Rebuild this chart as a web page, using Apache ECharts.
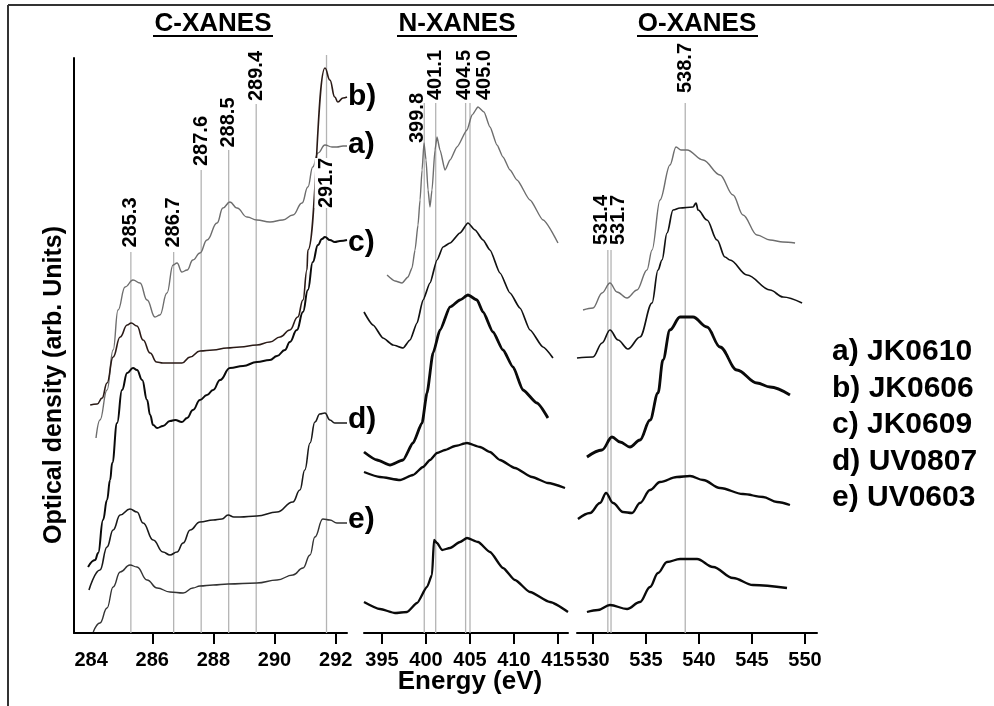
<!DOCTYPE html>
<html>
<head>
<meta charset="utf-8">
<script src="https://cdn.jsdelivr.net/npm/echarts@6.0.0/dist/echarts.min.js"></script>
<style>
html,body{margin:0;padding:0;background:#fff;}
#chart{width:994px;height:706px;}
</style>
</head>
<body>
<div id="chart"></div>
<script>
// ---------------- DATA ----------------
// C-XANES (energy eV, optical density arb. units incl. vertical offset)
const cA = [[284.16,19.5],[284.29,21.3],[284.52,24.3],[284.72,28.3],[284.88,32.3],[285.11,34.6],[285.37,35.3],[285.60,35.0],[285.83,33.3],[286.09,31.6],[286.25,31.8],[286.48,34.0],[286.68,36.8],[286.81,37.0],[286.97,36.1],[287.14,36.3],[287.33,37.3],[287.56,38.0],[287.79,39.3],[288.12,41.0],[288.31,42.5],[288.54,43.1],[288.77,42.5],[289.10,41.6],[289.42,41.3],[289.85,41.1],[290.27,41.3],[290.60,41.8],[290.90,43.0],[291.09,44.6],[291.25,46.6],[291.42,48.0],[291.65,48.8],[291.88,48.6],[292.04,48.6],[292.24,48.7],[292.37,48.7]];
const cB = [[283.97,22.8],[284.20,22.9],[284.36,23.5],[284.52,25.0],[284.72,27.6],[284.95,29.6],[285.18,30.8],[285.31,31.0],[285.50,30.7],[285.70,29.3],[285.93,28.0],[286.14,27.1],[286.35,27.0],[286.97,27.0],[287.24,27.6],[287.56,28.2],[287.99,28.3],[288.44,28.5],[288.87,28.6],[289.42,28.8],[289.85,29.1],[290.18,29.6],[290.50,30.3],[290.76,31.6],[290.93,33.3],[291.06,36.3],[291.09,38.3],[291.65,56.5],[291.81,55.3],[291.97,53.6],[292.07,53.1],[292.24,53.5],[292.37,53.6]];
const cC = [[283.90,6.6],[284.13,7.3],[284.23,8.0],[284.39,11.3],[284.52,13.3],[284.62,15.3],[284.69,17.0],[284.85,21.0],[285.01,24.3],[285.18,26.0],[285.37,26.5],[285.50,26.3],[285.67,25.3],[285.83,23.3],[285.93,21.8],[286.03,20.8],[286.16,20.5],[286.35,20.7],[286.58,21.2],[286.75,21.3],[286.97,21.1],[287.14,21.5],[287.33,22.3],[287.56,23.3],[287.79,23.8],[287.99,24.3],[288.22,25.3],[288.54,26.5],[288.97,26.7],[289.42,27.1],[289.85,27.3],[290.08,27.7],[290.34,28.3],[290.50,29.1],[290.73,30.3],[290.93,32.1],[291.09,34.3],[291.25,37.1],[291.42,38.8],[291.55,39.4],[291.65,39.6],[291.81,39.3],[291.97,39.1],[292.14,39.2],[292.37,39.3]];
const cD = [[283.93,4.3],[284.29,6.3],[284.52,8.6],[284.72,10.3],[284.95,11.8],[285.27,12.4],[285.50,12.1],[285.70,11.0],[286.03,9.3],[286.35,8.1],[286.58,7.8],[286.81,8.1],[287.01,9.0],[287.24,10.3],[287.56,11.1],[287.99,11.3],[288.28,11.4],[288.48,11.8],[288.67,11.6],[288.87,11.6],[289.42,11.7],[290.08,12.1],[290.60,13.1],[290.83,14.3],[290.99,16.3],[291.16,19.0],[291.32,21.1],[291.48,21.9],[291.65,22.0],[291.81,21.3],[291.97,21.0],[292.24,21.0],[292.37,21.0]];
const cE = [[284.07,0.1],[284.29,1.0],[284.52,2.5],[284.72,4.6],[284.95,6.1],[285.27,6.8],[285.50,6.6],[285.83,5.3],[286.16,4.5],[286.58,4.1],[287.01,4.0],[287.33,4.5],[287.56,4.7],[287.99,4.8],[288.48,4.9],[289.42,5.0],[290.08,5.3],[290.60,5.8],[290.93,6.5],[291.16,7.8],[291.32,9.6],[291.58,11.4],[291.81,11.3],[292.04,11.0],[292.24,11.0],[292.37,11.0]];

// N-XANES
const nA = [[395.57,35.8],[396.48,35.2],[397.27,35.0],[397.95,35.6],[398.41,36.5],[398.75,38.3],[399.09,40.8],[399.32,43.3],[399.55,46.3],[399.77,49.0],[400.00,47.3],[400.23,44.3],[400.45,42.6],[400.68,44.3],[401.02,48.3],[401.25,49.6],[401.59,48.3],[402.16,46.3],[402.73,47.3],[403.52,48.6],[404.66,50.3],[405.23,51.8],[405.91,52.6],[406.59,52.1],[407.27,50.6],[408.07,48.8],[408.75,47.6],[409.55,46.3],[410.34,45.3],[411.82,43.3],[413.30,41.3],[415.00,39.0]];
const nB = [[392.95,32.1],[393.98,30.8],[395.11,29.5],[396.25,28.8],[397.39,28.5],[398.18,29.3],[398.98,31.0],[399.66,33.3],[400.45,35.0],[401.25,37.3],[401.93,38.6],[402.73,39.0],[403.86,40.0],[404.77,41.0],[405.57,40.3],[406.48,39.3],[407.27,38.3],[408.41,36.0],[409.55,34.0],[410.68,32.5],[411.82,30.3],[413.30,28.6],[414.43,27.5]];
const nC = [[392.95,18.1],[394.43,17.3],[395.91,16.8],[397.39,17.3],[398.52,19.0],[399.55,21.0],[400.11,24.0],[400.80,28.0],[401.59,30.3],[402.73,32.6],[403.86,33.3],[404.77,33.8],[405.80,33.3],[406.48,32.1],[407.61,30.1],[408.75,28.3],[409.89,26.6],[411.02,24.3],[412.61,23.0],[413.86,21.5]];
const nD = [[392.95,16.1],[394.77,15.6],[397.05,15.3],[398.52,15.8],[399.66,16.6],[400.45,17.3],[401.25,18.0],[402.16,18.3],[403.30,18.7],[404.66,19.0],[406.14,18.6],[407.27,18.1],[408.41,17.3],[410.11,16.5],[412.05,15.6],[413.86,15.0],[415.80,14.5]];
const nE = [[392.95,3.1],[394.77,2.4],[396.48,2.0],[397.84,2.1],[398.98,3.0],[400.11,4.6],[400.68,5.8],[400.91,9.3],[401.25,9.0],[401.82,8.3],[402.73,8.5],[403.86,9.1],[404.66,9.5],[405.91,9.1],[407.27,8.1],[408.75,6.5],[410.11,5.3],[411.82,4.1],[414.09,3.1],[416.14,2.1]];

// O-XANES
const oA = [[529.06,32.3],[530.00,32.5],[530.85,34.0],[531.60,35.0],[532.26,34.1],[533.21,33.5],[534.15,34.3],[535.09,36.3],[535.57,38.3],[536.32,43.3],[537.26,46.8],[537.83,48.6],[538.30,48.3],[538.87,48.3],[540.38,47.3],[541.98,45.8],[543.21,43.8],[544.15,41.8],[545.47,39.8],[546.70,39.3],[547.92,39.1],[549.06,39.0]];
const oB = [[528.49,27.5],[530.00,27.6],[530.85,29.0],[531.60,30.3],[532.36,29.3],[533.30,28.4],[534.43,29.6],[535.57,33.0],[536.13,36.3],[536.51,37.3],[536.98,40.0],[537.55,42.3],[538.21,42.5],[539.43,42.6],[539.72,43.0],[539.91,42.3],[540.75,41.3],[541.70,39.3],[542.45,37.6],[542.92,37.3],[544.53,35.8],[546.70,34.3],[547.92,33.6],[549.72,33.0]];
const oC = [[529.43,17.6],[530.85,18.3],[531.79,19.6],[532.55,19.1],[533.49,18.6],[534.43,19.3],[535.38,21.3],[536.13,24.0],[536.60,27.3],[537.26,30.3],[538.21,31.6],[539.43,31.6],[540.75,30.6],[541.98,28.6],[543.58,26.3],[545.47,25.0],[546.70,24.6],[548.58,23.8]];
const oD = [[528.58,11.4],[529.72,12.0],[530.66,13.0],[531.23,14.0],[531.89,13.0],[532.83,12.1],[533.68,12.0],[534.43,13.0],[535.38,14.3],[536.32,15.1],[537.92,15.6],[539.15,15.7],[540.38,15.3],[541.98,14.5],[544.15,13.9],[546.04,13.6],[547.36,13.1],[548.58,12.8]];
const oE = [[529.43,2.1],[530.47,2.3],[531.60,2.8],[533.21,2.4],[534.43,3.1],[535.38,4.6],[536.13,6.0],[536.98,7.1],[538.21,7.4],[539.81,7.4],[541.32,6.6],[543.21,5.5],[545.09,4.8],[548.30,4.5]];

// Peak positions (eV)
const cPeaks = [285.3, 286.7, 287.6, 288.5, 289.4, 291.7];
const nPeaks = [399.8, 401.1, 404.5, 405.0];
const oPeaks = [531.4, 531.7, 538.7];

// Tick labels
const cTicks = [284, 286, 288, 290, 292];
const nTicks = [395, 400, 405, 410, 415];
const oTicks = [530, 535, 540, 545, 550];

const sampleTags = ['a)', 'b)', 'c)', 'd)', 'e)'];
const sampleNames = ['JK0610', 'JK0606', 'JK0609', 'UV0807', 'UV0603'];
const panelTitles = ['C-XANES', 'N-XANES', 'O-XANES'];

// ---------------- LAYOUT ----------------
const FONT = "'Liberation Sans', Arial, Helvetica, sans-serif";
const grids = [
  {left: 74, top: 58, width: 273, height: 575, min: 283.44, max: 292.37},
  {left: 364, top: 58, width: 204, height: 575, min: 392.95, max: 416.14},
  {left: 577, top: 58, width: 240, height: 575, min: 528.49, max: 551.13}
];
const YMAX = 57.5;
// reference-line heights, label heights and horizontal label shifts (px)
const cRefLayout = {top: [38.1, 38.1, 46.3, 48.3, 52.9, 57.8], lab: [41.05, 41.05, 49.2, 51.05, 55.7, 45.0], off: [0, 0, 0, 0, 0, 0], bg: [0, 0, 0, 0, 0, 1]};
const nRefLayout = {top: [53, 53, 53, 53], lab: [51.5, 55.8, 55.8, 55.8], off: [-7, 0, -1, 14], bg: [0, 0, 0, 0]};
const oRefLayout = {top: [38.3, 38.3, 53], lab: [41.3, 41.3, 56.5], off: [-6, 7, 0], bg: [0, 0, 0]};

const cStyles = [
  {color: '#6e6e6e', width: 1.4},
  {color: '#2a1a16', width: 1.6},
  {color: '#0a0a0a', width: 2.0},
  {color: '#1a1a1a', width: 1.6},
  {color: '#333333', width: 1.4}
];
const noStyles = [
  {color: '#6e6e6e', width: 1.4},
  {color: '#111111', width: 1.7},
  {color: '#0a0a0a', width: 2.8},
  {color: '#0a0a0a', width: 2.3},
  {color: '#0a0a0a', width: 2.3}
];

function curve(data, gi, st, smooth) {
  return {
    type: 'line', xAxisIndex: gi, yAxisIndex: gi, data: data,
    symbol: 'none', smooth: smooth, smoothMonotone: 'x',
    lineStyle: {color: st.color, width: st.width},
    silent: true, animation: false, z: 3
  };
}
function refSeries(peaks, lay, gi) {
  const out = peaks.map((e, i) => ({
    type: 'line', xAxisIndex: gi, yAxisIndex: gi,
    data: [[e, 0], [e, lay.top[i]]], symbol: 'none', clip: false,
    lineStyle: {color: '#b4b4b4', width: 1.3}, silent: true, animation: false, z: 1
  }));
  out.push({
    type: 'scatter', xAxisIndex: gi, yAxisIndex: gi, symbolSize: 0, clip: false,
    silent: true, animation: false, z: 6,
    itemStyle: {opacity: 1, color: '#000'},
    data: peaks.map((e, i) => ({
      value: [e, lay.lab[i]],
      // label is rotated 90deg: local y-offset maps to a horizontal screen shift
      label: lay.bg[i] ? {offset: [0, lay.off[i]], backgroundColor: '#fff', padding: [2, 0]} : {offset: [0, lay.off[i]]}
    })),
    label: {
      show: true, position: 'inside', rotate: 90, opacity: 1,
      formatter: p => p.value[0].toFixed(1),
      fontSize: 20, fontWeight: 'bold', color: '#000', fontFamily: FONT
    }
  });
  return out;
}

const tickSets = [cTicks, nTicks, oTicks];
const tickMarks = [cTicks.slice(1), nTicks, oTicks];

const xAxes = grids.map((g, i) => ({
  type: 'value', gridIndex: i, min: g.min, max: g.max,
  axisLine: {show: true, onZero: false, lineStyle: {color: '#000', width: 2}},
  axisTick: {show: true, customValues: tickMarks[i], length: 11, lineStyle: {color: '#000', width: 2}},
  axisLabel: {show: true, customValues: tickSets[i], margin: 17, fontSize: 20, fontWeight: 'bold', color: '#000', fontFamily: FONT},
  splitLine: {show: false}
}));
const yAxes = grids.map((g, i) => ({
  type: 'value', gridIndex: i, min: 0, max: YMAX,
  axisLine: {show: i === 0, onZero: false, lineStyle: {color: '#000', width: 2}},
  axisTick: {show: false}, axisLabel: {show: false}, splitLine: {show: false}
}));

const series = [];
[cA, cB, cC, cD, cE].forEach((d, i) => series.push(curve(d, 0, cStyles[i], 0.45)));
[nA, nB, nC, nD, nE].forEach((d, i) => series.push(curve(d, 1, noStyles[i], 0.2)));
[oA, oB, oC, oD, oE].forEach((d, i) => series.push(curve(d, 2, noStyles[i], 0.35)));
series.push(...refSeries(cPeaks, cRefLayout, 0));
series.push(...refSeries(nPeaks, nRefLayout, 1));
series.push(...refSeries(oPeaks, oRefLayout, 2));

// graphic elements: frame, titles, axis names, tags, legend
const graphic = [];
graphic.push({type: 'line', shape: {x1: 8, y1: 5, x2: 994, y2: 5}, style: {stroke: '#333', lineWidth: 2}, silent: true});
graphic.push({type: 'line', shape: {x1: 8, y1: 5, x2: 8, y2: 706}, style: {stroke: '#333', lineWidth: 2}, silent: true});
const titleCx = [213, 457, 697];
const titleUl = [[153, 273], [397, 517], [637, 758]];
panelTitles.forEach((t, i) => {
  graphic.push({type: 'text', x: titleCx[i], y: 24, silent: true,
    style: {text: t, font: 'bold 26px ' + FONT, fill: '#000', textAlign: 'center', textVerticalAlign: 'middle'}});
  graphic.push({type: 'line', shape: {x1: titleUl[i][0], y1: 36, x2: titleUl[i][1], y2: 36}, style: {stroke: '#000', lineWidth: 2}, silent: true});
});
graphic.push({type: 'text', x: 54, y: 385, rotation: Math.PI / 2, silent: true,
  style: {text: 'Optical density (arb. Units)', font: 'bold 25px ' + FONT, fill: '#000', textAlign: 'center', textVerticalAlign: 'middle'}});
graphic.push({type: 'text', x: 470, y: 682, silent: true,
  style: {text: 'Energy (eV)', font: 'bold 26px ' + FONT, fill: '#000', textAlign: 'center', textVerticalAlign: 'middle'}});
const tagY = [144.5, 96.5, 242.5, 419.5, 519.5];
sampleTags.forEach((t, i) => {
  graphic.push({type: 'text', x: 348, y: tagY[i], silent: true,
    style: {text: t, font: 'bold 30px ' + FONT, fill: '#000', textAlign: 'left', textVerticalAlign: 'middle'}});
});
const legY = [351.5, 388.5, 424.5, 461.5, 497.5];
sampleTags.forEach((t, i) => {
  graphic.push({type: 'text', x: 832, y: legY[i], silent: true,
    style: {text: t + ' ' + sampleNames[i], font: 'bold 30px ' + FONT, fill: '#000', textAlign: 'left', textVerticalAlign: 'middle'}});
});

const chart = echarts.init(document.getElementById('chart'), null, {renderer: 'canvas'});
chart.setOption({
  backgroundColor: '#fff',
  animation: false,
  grid: grids.map(g => ({left: g.left, top: g.top, width: g.width, height: g.height, containLabel: false})),
  xAxis: xAxes,
  yAxis: yAxes,
  series: series,
  graphic: graphic
});
</script>
</body>
</html>
